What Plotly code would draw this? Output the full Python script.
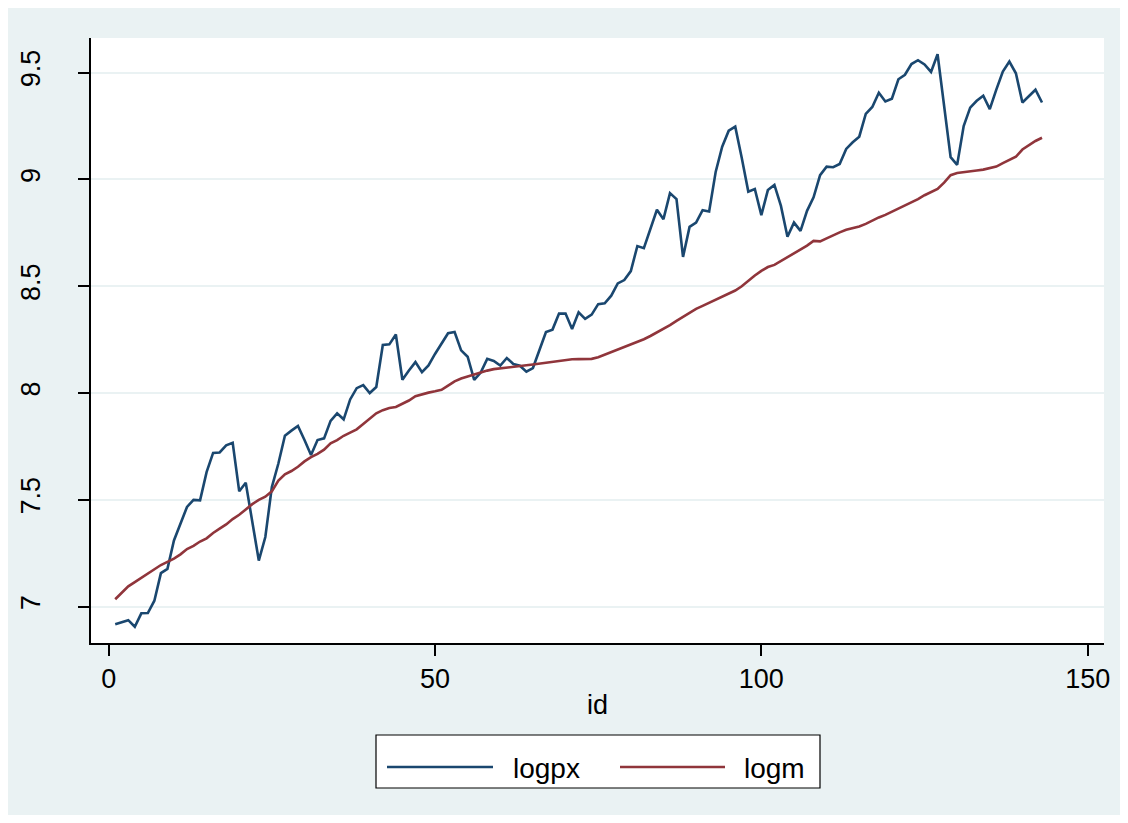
import plotly.graph_objects as go

ids = list(range(1, 144))

logpx = [
    6.918, 6.928, 6.937, 6.906, 6.969, 6.970, 7.028, 7.157, 7.177, 7.310,
    7.390, 7.467, 7.500, 7.498, 7.630, 7.720, 7.722, 7.755, 7.767, 7.540,
    7.580, 7.404, 7.216, 7.326, 7.560, 7.670, 7.800, 7.824, 7.846, 7.780,
    7.710, 7.780, 7.788, 7.870, 7.905, 7.877, 7.970, 8.023, 8.037, 8.000,
    8.028, 8.225, 8.228, 8.274, 8.062, 8.106, 8.145, 8.098, 8.129, 8.183,
    8.230, 8.280, 8.286, 8.200, 8.170, 8.062, 8.096, 8.160, 8.150, 8.129,
    8.164, 8.136, 8.128, 8.100, 8.117, 8.198, 8.286, 8.297, 8.372, 8.372,
    8.300, 8.378, 8.347, 8.367, 8.416, 8.420, 8.456, 8.513, 8.529, 8.571,
    8.688, 8.678, 8.764, 8.858, 8.814, 8.936, 8.908, 8.637, 8.778, 8.798,
    8.856, 8.850, 9.035, 9.153, 9.228, 9.247, 9.100, 8.943, 8.955, 8.833,
    8.950, 8.974, 8.876, 8.732, 8.798, 8.759, 8.853, 8.916, 9.020, 9.060,
    9.057, 9.072, 9.143, 9.174, 9.200, 9.307, 9.339, 9.406, 9.365, 9.378,
    9.469, 9.490, 9.540, 9.558, 9.538, 9.503, 9.586, 9.345, 9.104, 9.068,
    9.250, 9.336, 9.368, 9.392, 9.329, 9.420, 9.505, 9.552, 9.497, 9.360,
    9.388, 9.420, 9.360,
]

logm = [
    7.035, 7.065, 7.095, 7.115, 7.135, 7.155, 7.175, 7.195, 7.210, 7.225,
    7.245, 7.270, 7.285, 7.305, 7.320, 7.345, 7.365, 7.385, 7.410, 7.430,
    7.455, 7.480, 7.500, 7.515, 7.540, 7.590, 7.620, 7.635, 7.655, 7.680,
    7.700, 7.715, 7.735, 7.765, 7.780, 7.800, 7.815, 7.830, 7.855, 7.880,
    7.905, 7.920, 7.930, 7.935, 7.950, 7.965, 7.985, 7.995, 8.002, 8.008,
    8.015, 8.035, 8.055, 8.068, 8.078, 8.085, 8.095, 8.105, 8.112, 8.115,
    8.120, 8.124, 8.126, 8.130, 8.134, 8.138, 8.142, 8.147, 8.152, 8.156,
    8.158, 8.159, 8.159, 8.160, 8.168, 8.180, 8.192, 8.205, 8.215, 8.228,
    8.240, 8.252, 8.267, 8.283, 8.300, 8.318, 8.338, 8.356, 8.378, 8.394,
    8.408, 8.422, 8.436, 8.452, 8.466, 8.480, 8.500, 8.526, 8.550, 8.572,
    8.590, 8.600, 8.618, 8.636, 8.652, 8.670, 8.690, 8.712, 8.710, 8.724,
    8.740, 8.752, 8.764, 8.772, 8.780, 8.792, 8.808, 8.822, 8.834, 8.848,
    8.864, 8.880, 8.894, 8.908, 8.926, 8.942, 8.955, 8.985, 9.020, 9.030,
    9.035, 9.040, 9.042, 9.046, 9.052, 9.060, 9.076, 9.090, 9.106, 9.140,
    9.160, 9.180, 9.195,
]

x_ticks = [0, 50, 100, 150]
y_ticks = [7, 7.5, 8, 8.5, 9, 9.5]
y_ticklabels = ["7", "7.5", "8", "8.5", "9", "9.5"]
series_names = ["logpx", "logm"]
series_colors = ["#1A476F", "#90353B"]

FONT = "Liberation Sans, Arial, sans-serif"
BG = "#EAF2F3"

# The page body adds an 8px white margin; the figure fills the rest.
OFF = 8
W, H = 1112, 807
# plot area in screen pixels: x 91..1104, y 38..643
L, T = 91 - OFF, 38 - OFF
R, B = W - (1104 - OFF), H - (643 - OFF)
PW, PH = W - L - R, H - T - B


def px(xs):
    return (xs - OFF - L) / PW


def py(ys):
    return (H - B - (ys - OFF)) / PH


fig = go.Figure()
for name, vals, col in zip(series_names, [logpx, logm], series_colors):
    fig.add_trace(go.Scatter(x=ids, y=vals, mode="lines", name=name,
                             line=dict(color=col, width=2.6),
                             showlegend=False))

shapes = [
    dict(type="rect", xref="paper", yref="paper", layer="below",
         x0=0, x1=1, y0=0, y1=1, fillcolor="white", line=dict(width=0)),
    dict(type="rect", xref="paper", yref="paper",
         x0=px(376), x1=px(820), y0=py(788), y1=py(735),
         fillcolor="white", line=dict(color="black", width=1.2), layer="below"),
]
annotations = []
legend_items = [(387, 493, 511), (620, 725, 742)]
for (lx0, lx1, tx), name, col in zip(legend_items, series_names, series_colors):
    shapes.append(dict(type="line", xref="paper", yref="paper",
                       x0=px(lx0), x1=px(lx1), y0=py(767), y1=py(767),
                       line=dict(color=col, width=2.6)))
    annotations.append(dict(xref="paper", yref="paper", x=px(tx), y=py(768),
                            text=name, showarrow=False, xanchor="left",
                            yanchor="middle",
                            font=dict(family=FONT, size=28, color="black")))

fig.update_layout(
    width=W, height=H,
    margin=dict(l=L, r=R, t=T, b=B, autoexpand=False),
    paper_bgcolor=BG,
    plot_bgcolor="rgba(0,0,0,0)",
    shapes=shapes,
    annotations=annotations,
    showlegend=False,
    font=dict(family=FONT, color="black"),
)

fig.update_xaxes(
    range=[-2.71, 152.5], tickvals=x_ticks, ticktext=[str(v) for v in x_ticks],
    showgrid=False, zeroline=False, automargin=False,
    showline=True, linecolor="black", linewidth=1.5,
    ticks="outside", ticklen=11, tickwidth=1.5, tickcolor="black",
    tickfont=dict(family=FONT, size=27, color="black"),
    ticklabelstandoff=0,
    title=dict(text="id", font=dict(family=FONT, size=27, color="black"),
               standoff=2),
)
fig.update_yaxes(
    range=[6.830, 9.662], tickvals=y_ticks, ticktext=y_ticklabels,
    showgrid=True, gridcolor=BG, gridwidth=2, zeroline=False, automargin=False,
    showline=True, linecolor="black", linewidth=1.5,
    ticks="outside", ticklen=11, tickwidth=1.5, tickcolor="black",
    tickangle=-90,
    tickfont=dict(family=FONT, size=27, color="black"),
    ticklabelstandoff=27,
)

fig.write_html("out.html")
